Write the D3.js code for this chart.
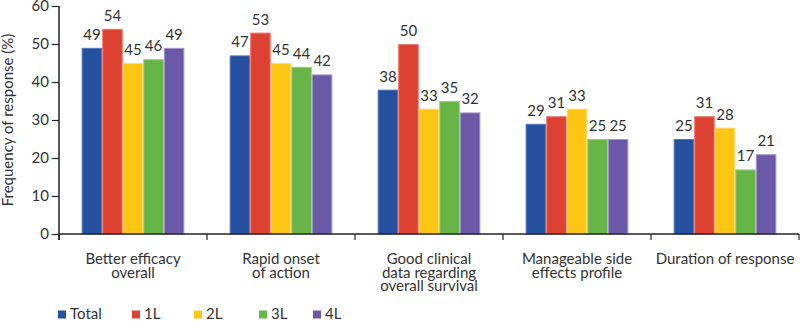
<!DOCTYPE html>
<html lang="en">
<head>
<meta charset="UTF-8">
<title>frequency_of_response</title>
<script src="https://cdn.jsdelivr.net/npm/d3@7"></script>
<style>
  body { margin: 0; background: #fff; }
  svg { display: block; }
  text { font-family: Lato, "Open Sans", sans-serif; fill: #333; }
</style>
</head>
<body>
<svg width="800" height="321" id="mainsvg"></svg>
<script>
  // data
  const categories = [
    ['Better efficacy', 'overall'],
    ['Rapid onset', 'of action'],
    ['Good clinical', 'data regarding', 'overall survival'],
    ['Manageable side', 'effects profile'],
    ['Duration of response']
  ];
  const seriesNames = ['Total', '1L', '2L', '3L', '4L'];
  const total = [49, 47, 38, 29, 25];
  const l1 = [54, 53, 50, 31, 31];
  const l2 = [45, 45, 33, 33, 28];
  const l3 = [46, 44, 35, 25, 17];
  const l4 = [49, 42, 32, 25, 21];
  const yTicks = [0, 10, 20, 30, 40, 50, 60];

  const colors = ['#2550a0', '#dc4132', '#fec614', '#67b447', '#6a59a7'];
  const strokes = ['#5577bb', '#ee7a70', '#ffdd70', '#99d080', '#a497cc'];
  const allSeries = [total, l1, l2, l3, l4];

  const svg = d3.select('svg');
  const margin = {top: 6, right: 1, bottom: 87, left: 59};
  const width = +svg.attr('width'), height = +svg.attr('height');
  const innerWidth = width - margin.left - margin.right;
  const innerHeight = height - margin.top - margin.bottom;
  const g = svg.append('g').attr('transform', `translate(${margin.left},${margin.top})`);

  const keys = categories.map((c, i) => i);
  const x0 = d3.scaleBand().domain(keys).range([0, innerWidth]).padding(0);
  const groupPad = x0.bandwidth() * 0.153;
  const x1 = d3.scaleBand().domain(seriesNames).range([groupPad, x0.bandwidth() - groupPad]).padding(0);
  const y = d3.scaleLinear().domain([0, 60]).range([innerHeight, 0]);

  const rows = keys.map(i => ({i, vals: seriesNames.map((s, j) => ({s, j, v: allSeries[j][i]}))}));

  const groups = g.selectAll('.grp').data(rows).enter().append('g')
    .attr('class', 'grp')
    .attr('transform', d => `translate(${x0(d.i)},0)`);

  groups.selectAll('rect').data(d => d.vals).enter().append('rect')
    .attr('x', d => x1(d.s) + 0.5)
    .attr('width', x1.bandwidth() - 1)
    .attr('y', d => y(d.v) + 0.5)
    .attr('height', d => innerHeight - y(d.v) - 0.5)
    .attr('fill', d => colors[d.j])
    .attr('stroke', d => strokes[d.j])
    .attr('stroke-width', 1);

  groups.selectAll('.val').data(d => d.vals).enter().append('text')
    .attr('class', 'val')
    .attr('x', d => x1(d.s) + x1.bandwidth() / 2)
    .attr('y', d => y(d.v) - 8)
    .attr('text-anchor', 'middle')
    .attr('font-size', '15px')
    .text(d => d.v);

  // y axis
  const yAxis = d3.axisLeft(y).tickValues(yTicks).tickSize(7).tickPadding(3);
  const yg = g.append('g').call(yAxis);
  yg.select('.domain').attr('stroke', '#222').attr('stroke-width', 1.5).attr('d', `M0,0V${innerHeight + 6}`);
  yg.selectAll('.tick line').attr('stroke', '#222').attr('stroke-width', 1.2);
  yg.selectAll('.tick text').attr('font-size', '15px').attr('fill', '#333');

  // x axis
  const xg = g.append('g').attr('transform', `translate(0,${innerHeight})`);
  xg.append('line').attr('x1', 0).attr('x2', innerWidth).attr('stroke', '#222').attr('stroke-width', 1.5);
  const bounds = keys.map(k => x0(k)).concat([innerWidth]);
  xg.selectAll('.xt').data(bounds).enter().append('line')
    .attr('x1', d => d).attr('x2', d => d).attr('y1', 0).attr('y2', 6)
    .attr('stroke', '#222').attr('stroke-width', 1.2);

  const lab = xg.selectAll('.cat').data(keys).enter().append('text')
    .attr('class', 'cat')
    .attr('text-anchor', 'middle')
    .attr('font-size', '15px')
    .attr('transform', d => `translate(${x0(d) + x0.bandwidth() / 2},30)`);
  lab.selectAll('tspan').data(d => categories[d]).enter().append('tspan')
    .attr('x', 0).attr('dy', (d, i) => i === 0 ? 0 : 13.7)
    .text(d => d);

  // y title
  svg.append('text')
    .attr('transform', `translate(13,${margin.top + innerHeight / 2}) rotate(-90)`)
    .attr('text-anchor', 'middle')
    .attr('font-size', '15px')
    .text('Frequency of response (%)');

  // legend
  const legendX = [58, 132, 194, 259, 313];
  const leg = svg.selectAll('.leg').data(seriesNames).enter().append('g')
    .attr('class', 'leg')
    .attr('transform', (d, i) => `translate(${legendX[i]},310.5)`);
  leg.append('rect').attr('width', 8).attr('height', 8).attr('fill', (d, i) => colors[i]);
  leg.append('text').attr('x', 12).attr('y', 8.5).attr('font-size', '15px').text(d => d);
</script>
</body>
</html>
